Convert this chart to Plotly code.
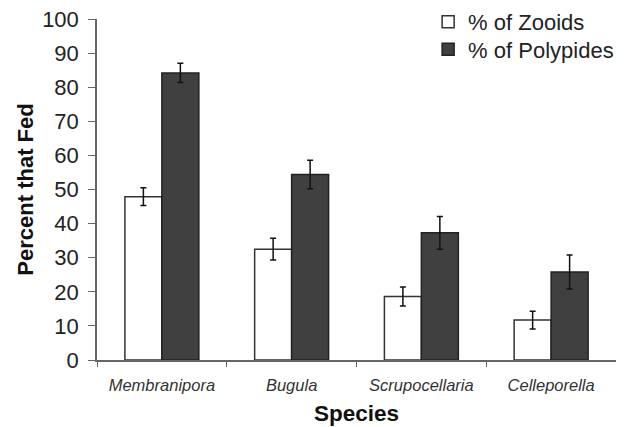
import plotly.graph_objects as go

species = ["Membranipora", "Bugula", "Scrupocellaria", "Celleporella"]
zooids = [47.9, 32.5, 18.6, 11.7]
zooids_err = [2.6, 3.2, 2.8, 2.6]
polypides = [84.2, 54.4, 37.3, 25.8]
polypides_err = [2.8, 4.2, 4.8, 5.0]
y_ticks = list(range(0, 101, 10))

cat_labels = [f"<i>{s}</i>" for s in species]

fig = go.Figure()
fig.add_trace(go.Bar(
    x=cat_labels, y=zooids, name="% of Zooids", legend="legend",
    marker=dict(color="white", line=dict(color="#333333", width=1.5)),
    error_y=dict(type="data", array=zooids_err, color="#111111", thickness=1.5, width=3),
))
fig.add_trace(go.Bar(
    x=cat_labels, y=polypides, name="% of Polypides", legend="legend2",
    marker=dict(color="#404040", line=dict(color="#222222", width=1.5)),
    error_y=dict(type="data", array=polypides_err, color="#111111", thickness=1.5, width=3),
))

leg_common = dict(xanchor="left", yanchor="middle",
                  font=dict(size=22, color="#222222"), bgcolor="rgba(0,0,0,0)",
                  itemwidth=30, tracegroupgap=0)

fig.update_layout(
    width=624, height=427,
    margin=dict(l=89, r=16, t=11, b=75, autoexpand=False),
    paper_bgcolor="white", plot_bgcolor="white",
    barmode="group", bargap=0.43, bargroupgap=0,
    font=dict(family="Liberation Sans, Arial, sans-serif", color="#222222"),
    showlegend=True,
    legend=dict(x=0.638, y=0.991, **leg_common),
    legend2=dict(x=0.638, y=0.911, **leg_common),
    xaxis=dict(
        automargin=False,
        showline=True, linecolor="#666666", linewidth=1.5,
        ticks="outside", ticklen=5, tickcolor="#666666", tickson="boundaries",
        tickfont=dict(size=16.5, color="#333333"),
        ticklabelstandoff=9,
        title=dict(text="<b>Species</b>", font=dict(size=22.5, color="#111111"), standoff=13),
    ),
    yaxis=dict(
        automargin=False,
        range=[0, 100], tickvals=y_ticks,
        showline=True, linecolor="#666666", linewidth=1.5,
        ticks="outside", ticklen=7, tickcolor="#666666",
        ticklabelstandoff=5, ticklabeloverflow="allow",
        showgrid=False, zeroline=False,
        tickfont=dict(size=22, color="#222222"),
        title=dict(text="<b>Percent that Fed</b>", font=dict(size=22, color="#111111"), standoff=2),
    ),
)

fig.write_html("out.html")
